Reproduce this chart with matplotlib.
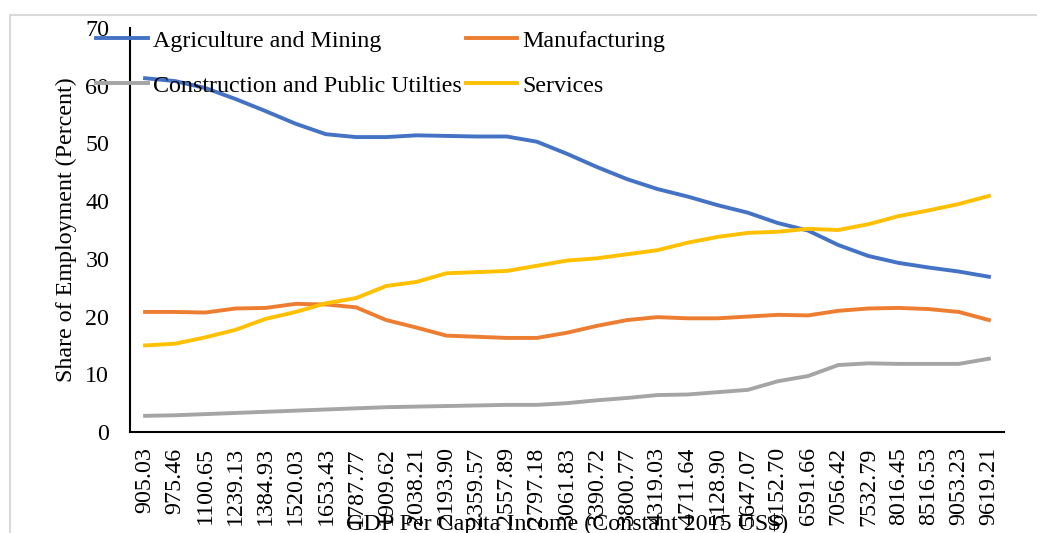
import matplotlib
matplotlib.use("Agg")
import matplotlib.pyplot as plt
from matplotlib.patches import Rectangle

plt.rcParams["font.family"] = ["Liberation Serif", "DejaVu Serif"]

# GDP per capita (constant 2015 US$), used as category labels
gdp_labels = [
    "905.03", "975.46", "1100.65", "1239.13", "1384.93", "1520.03", "1653.43",
    "1787.77", "1909.62", "2038.21", "2193.90", "2359.57", "2557.89", "2797.18",
    "3061.83", "3390.72", "3800.77", "4319.03", "4711.64", "5128.90", "5647.07",
    "6152.70", "6591.66", "7056.42", "7532.79", "8016.45", "8516.53", "9053.23",
    "9619.21",
]

# employment shares by sector (percent)
agriculture = [61.3, 60.8, 59.6, 57.7, 55.6, 53.4, 51.6, 51.1, 51.1, 51.4,
               51.3, 51.2, 51.2, 50.3, 48.2, 45.9, 43.8, 42.1, 40.8, 39.3,
               38.0, 36.2, 34.9, 32.4, 30.5, 29.3, 28.5, 27.8, 26.9]
manufacturing = [20.8, 20.8, 20.7, 21.4, 21.5, 22.2, 22.1, 21.6, 19.4, 18.1,
                 16.7, 16.5, 16.3, 16.3, 17.2, 18.4, 19.4, 19.9, 19.7, 19.7,
                 20.0, 20.3, 20.2, 21.0, 21.4, 21.5, 21.3, 20.8, 19.4]
construction = [2.8, 2.9, 3.1, 3.3, 3.5, 3.7, 3.9, 4.1, 4.3, 4.4,
                4.5, 4.6, 4.7, 4.7, 5.0, 5.5, 5.9, 6.4, 6.5, 6.9,
                7.3, 8.8, 9.7, 11.6, 11.9, 11.8, 11.8, 11.8, 12.7]
services = [15.0, 15.3, 16.4, 17.7, 19.6, 20.8, 22.3, 23.2, 25.3, 26.0,
            27.5, 27.7, 27.9, 28.8, 29.7, 30.1, 30.8, 31.5, 32.8, 33.8,
            34.5, 34.7, 35.2, 35.0, 36.0, 37.4, 38.4, 39.5, 40.9]

W, H = 1037, 533
FS = 17.3
fig = plt.figure(figsize=(W / 100, H / 100), dpi=100)
ax = fig.add_axes([130 / W, 1 - 432 / H, 874 / W, 404 / H])

# chart frame
fig.patches.append(Rectangle((10 / W, -0.05), 1.1, 1 - 15 / H + 0.05,
                             transform=fig.transFigure, fill=False,
                             edgecolor="#d9d9d9", linewidth=1.5))

x = list(range(len(gdp_labels)))
lw = 2.8
ax.plot(x, agriculture, color="#4472C4", lw=lw, label="Agriculture and Mining")
ax.plot(x, construction, color="#A5A5A5", lw=lw, label="Construction and Public Utilties")
ax.plot(x, manufacturing, color="#ED7D31", lw=lw, label="Manufacturing")
ax.plot(x, services, color="#FFC000", lw=lw, label="Services")

ax.set_xlim(-0.5, len(gdp_labels) - 0.5)
ax.set_ylim(0, 70)
ax.set_yticks(range(0, 71, 10))
ax.set_xticks(x)
ax.set_xticklabels(gdp_labels, rotation=90)
ax.tick_params(axis="both", length=0, labelsize=FS)
ax.tick_params(axis="y", pad=15)
ax.tick_params(axis="x", pad=11)

for side in ("top", "right"):
    ax.spines[side].set_visible(False)
for side in ("left", "bottom"):
    ax.spines[side].set_linewidth(1.5)

ax.set_ylabel("Share of Employment (Percent)", fontsize=FS)
ax.yaxis.set_label_coords(-0.061, 0.5)
ax.set_xlabel("GDP Per Capita Income (Constant 2015 US$)", fontsize=FS)
ax.xaxis.set_label_coords(0.5, -0.20)

fig.legend(loc="upper left", bbox_to_anchor=(96 / W, 1 - 30 / H), ncol=2,
           frameon=False, fontsize=FS, borderpad=0, borderaxespad=0,
           handlelength=2.15, handletextpad=0.22, columnspacing=0.17,
           labelspacing=0.96)

fig.savefig("out.png", dpi=100)
